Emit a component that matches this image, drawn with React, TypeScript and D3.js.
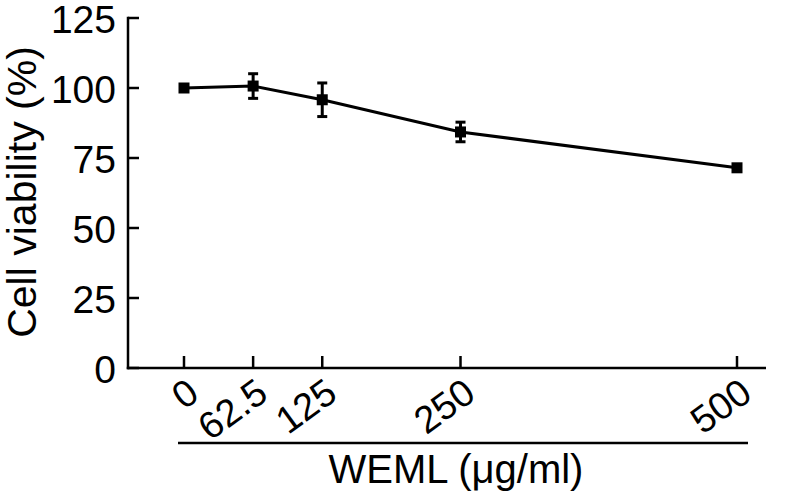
import * as d3 from 'd3';

// concentrations (µg/ml), mean viability (%), and SD
const doses = [0, 62.5, 125, 250, 500];
const doseLabels = ['0', '62.5', '125', '250', '500'];
const viability = [100, 100.7, 95.8, 84.3, 71.5];
const errors = [0, 4.4, 6.0, 3.5, 0];
const yTicks = [0, 25, 50, 75, 100, 125];

const W = 797;
const H = 498;
const FONT = '"Liberation Sans", Arial, sans-serif';

const App = () => {
  const x = d3.scaleLinear().domain([0, 500]).range([184, 737]);
  const y = d3.scaleLinear().domain([0, 125]).range([368, 18]);
  const axisX0 = 128;
  const axisX1 = 766;

  const pts = doses.map((d, i) => [x(d), y(viability[i])] as [number, number]);
  const line = d3.line()(pts);

  return (
    <svg width={W} height={H} style={{ position: 'absolute', left: 0, top: 0, background: '#fff' }}>
      {/* y axis */}
      <line x1={axisX0} x2={axisX0} y1={y(125) - 1.25} y2={y(0) + 1.25} stroke="#000" strokeWidth={2.5} />
      {yTicks.map((t) => (
        <g key={t}>
          <line x1={axisX0} x2={axisX0 + 11} y1={y(t)} y2={y(t)} stroke="#000" strokeWidth={2.5} />
          <text x={116} y={y(t) + 14.5} textAnchor="end" fontFamily={FONT} fontSize={39}>
            {t}
          </text>
        </g>
      ))}
      <text
        transform={`translate(36,${192}) rotate(-90)`}
        textAnchor="middle"
        fontFamily={FONT}
        fontSize={41}
      >
        Cell viability (%)
      </text>

      {/* x axis */}
      <line x1={axisX0 - 1.25} x2={axisX1} y1={y(0)} y2={y(0)} stroke="#000" strokeWidth={2.5} />
      {doses.map((d, i) => (
        <g key={d}>
          <line x1={x(d)} x2={x(d)} y1={y(0)} y2={y(0) - 12} stroke="#000" strokeWidth={2.5} />
          <text
            transform={`translate(${x(d) + 17},${y(0) + 30}) rotate(-36)`}
            textAnchor="end"
            fontFamily={FONT}
            fontSize={38}
          >
            {doseLabels[i]}
          </text>
        </g>
      ))}
      <line x1={178} x2={748} y1={443} y2={443} stroke="#000" strokeWidth={2.5} />
      <text x={456} y={483} textAnchor="middle" fontFamily={FONT} fontSize={40}>
        WEML (μg/ml)
      </text>

      {/* data */}
      <path d={line ?? ''} fill="none" stroke="#000" strokeWidth={3} />
      {doses.map((d, i) =>
        errors[i] > 0 ? (
          <g key={'e' + d} stroke="#000" strokeWidth={3}>
            <line x1={x(d)} x2={x(d)} y1={y(viability[i] + errors[i])} y2={y(viability[i] - errors[i])} />
            <line x1={x(d) - 5} x2={x(d) + 5} y1={y(viability[i] + errors[i])} y2={y(viability[i] + errors[i])} />
            <line x1={x(d) - 5} x2={x(d) + 5} y1={y(viability[i] - errors[i])} y2={y(viability[i] - errors[i])} />
          </g>
        ) : null
      )}
      {pts.map(([px, py], i) => (
        <rect key={'m' + i} x={px - 5.5} y={py - 5.5} width={11} height={11} fill="#000" />
      ))}
    </svg>
  );
};

export default App;
